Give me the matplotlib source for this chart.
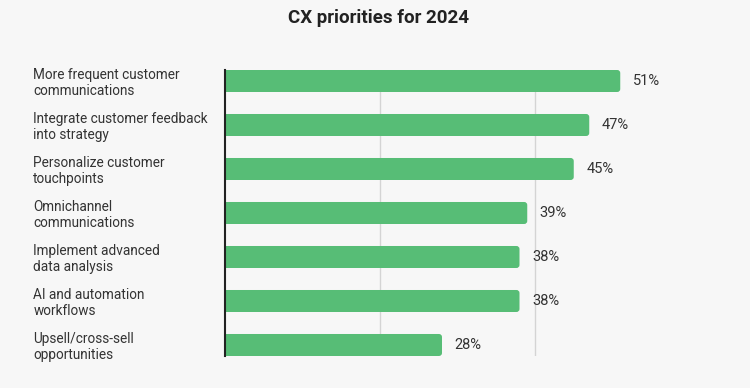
import matplotlib
matplotlib.use("Agg")
import matplotlib.pyplot as plt
from matplotlib.patches import FancyBboxPatch

categories = [
    "More frequent customer\ncommunications",
    "Integrate customer feedback\ninto strategy",
    "Personalize customer\ntouchpoints",
    "Omnichannel\ncommunications",
    "Implement advanced\ndata analysis",
    "AI and automation\nworkflows",
    "Upsell/cross-sell\nopportunities",
]
values = [51, 47, 45, 39, 38, 38, 28]
value_labels = ["51%", "47%", "45%", "39%", "38%", "38%", "28%"]
title = "CX priorities for 2024"

BG = "#f7f7f7"
GREEN = "#57bd76"
TEXT = "#333333"

plt.rcParams['font.family'] = ['Roboto', 'DejaVu Sans']

fig = plt.figure(figsize=(7.5, 3.88), dpi=100, facecolor=BG)
ax = fig.add_axes([0.3, 0.0825, 0.62, 0.7371], facecolor=BG)

ypos = list(range(len(values)))
bar_h = 0.5
ax.set_xlim(0, 60)
ax.set_ylim(len(values) - 0.75, -0.25)

r = 0.4
for y, v in zip(ypos, values):
    ax.barh(y, v - r * 1.5, height=bar_h, color=GREEN, zorder=3)
    p = FancyBboxPatch((0, y - bar_h / 2), v, bar_h,
                       boxstyle=f"round,pad=0,rounding_size={r}",
                       mutation_aspect=0.17, facecolor=GREEN, edgecolor="none", zorder=3)
    ax.add_patch(p)

for y, v, lab in zip(ypos, values, value_labels):
    ax.annotate(lab, (v, y), xytext=(9, 0), textcoords="offset points",
                va="center", ha="left", fontsize=10.5, color=TEXT)

ax.set_xticks([20, 40])
ax.xaxis.grid(True, color="#d4d4d4", linewidth=1, zorder=0)
ax.tick_params(axis="x", length=0, labelbottom=False)
ax.set_yticks(ypos)
ax.set_yticklabels(categories, ha="left", fontsize=9.8, color=TEXT, linespacing=1.1)
ax.tick_params(axis="y", length=0, pad=138)

for s in ["top", "right", "bottom"]:
    ax.spines[s].set_visible(False)
ax.spines["left"].set_color("#222222")
ax.spines["left"].set_linewidth(1.5)
ax.spines["left"].set_zorder(4)

fig.text(0.505, 0.953, title, ha="center", va="center", fontsize=13.5,
         fontweight="bold", color="#222222")

fig.savefig("out.png", dpi=100, facecolor=BG)
